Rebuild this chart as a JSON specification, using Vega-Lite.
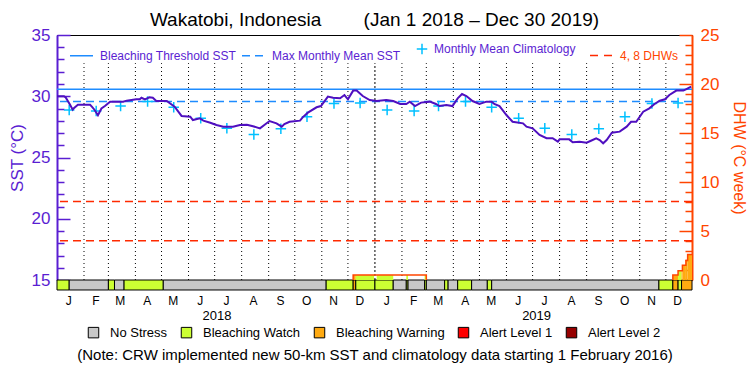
{
  "$schema": "https://vega.github.io/schema/vega-lite/v6.json",
  "width": 635,
  "height": 245,
  "autosize": {"type": "none"},
  "padding": {"left": 57, "top": 35, "right": 58, "bottom": 95},
  "background": "white",
  "title": {
    "text": "Wakatobi, Indonesia\u00a0\u00a0\u00a0\u00a0\u00a0\u00a0\u00a0\u00a0(Jan 1 2018 \u2013 Dec 30 2019)",
    "font": "Liberation Sans", "fontSize": 19, "fontWeight": "normal", "color": "black",
    "anchor": "middle", "offset": -4
  },
  "config": {
    "font": "Liberation Sans",
    "view": {"stroke": "black", "strokeWidth": 1},
    "axis": {"grid": false, "labelFont": "Liberation Sans", "titleFont": "Liberation Sans", "titleFontWeight": "normal", "labelOverlap": false, "labelFlush": false},
    "legend": {"labelFont": "Liberation Sans"}
  },
  "datasets": {
    "sst": [
      {"date": "2018-01-01", "sst": 30.0}, {"date": "2018-01-09", "sst": 30.0}, {"date": "2018-01-11", "sst": 29.9},
      {"date": "2018-01-16", "sst": 29.3}, {"date": "2018-01-19", "sst": 28.9}, {"date": "2018-01-20", "sst": 29.0},
      {"date": "2018-01-25", "sst": 29.3}, {"date": "2018-02-08", "sst": 29.3}, {"date": "2018-02-10", "sst": 29.15},
      {"date": "2018-02-13", "sst": 28.9}, {"date": "2018-02-17", "sst": 28.45}, {"date": "2018-02-21", "sst": 29.0},
      {"date": "2018-02-25", "sst": 29.2}, {"date": "2018-03-03", "sst": 29.56}, {"date": "2018-03-18", "sst": 29.56},
      {"date": "2018-03-22", "sst": 29.64}, {"date": "2018-04-02", "sst": 29.75}, {"date": "2018-04-06", "sst": 29.75},
      {"date": "2018-04-08", "sst": 29.88}, {"date": "2018-04-12", "sst": 29.75}, {"date": "2018-04-17", "sst": 29.91},
      {"date": "2018-04-21", "sst": 29.88}, {"date": "2018-04-25", "sst": 29.61}, {"date": "2018-05-07", "sst": 29.61},
      {"date": "2018-05-16", "sst": 29.15}, {"date": "2018-05-24", "sst": 28.39}, {"date": "2018-06-03", "sst": 28.33},
      {"date": "2018-06-06", "sst": 28.06}, {"date": "2018-06-14", "sst": 28.2}, {"date": "2018-06-18", "sst": 28.01},
      {"date": "2018-06-26", "sst": 27.84}, {"date": "2018-07-03", "sst": 27.65}, {"date": "2018-07-11", "sst": 27.52},
      {"date": "2018-07-22", "sst": 27.52}, {"date": "2018-07-30", "sst": 27.65}, {"date": "2018-08-07", "sst": 27.68},
      {"date": "2018-08-14", "sst": 27.55}, {"date": "2018-08-22", "sst": 27.38}, {"date": "2018-09-02", "sst": 27.98},
      {"date": "2018-09-10", "sst": 27.79}, {"date": "2018-09-16", "sst": 27.52}, {"date": "2018-09-19", "sst": 27.73},
      {"date": "2018-09-25", "sst": 27.92}, {"date": "2018-10-07", "sst": 28.01}, {"date": "2018-10-10", "sst": 28.28},
      {"date": "2018-10-16", "sst": 28.66}, {"date": "2018-10-26", "sst": 29.1}, {"date": "2018-10-31", "sst": 29.2},
      {"date": "2018-11-08", "sst": 29.97}, {"date": "2018-11-14", "sst": 29.88}, {"date": "2018-11-22", "sst": 29.83},
      {"date": "2018-11-27", "sst": 30.1}, {"date": "2018-12-01", "sst": 29.75}, {"date": "2018-12-07", "sst": 30.46},
      {"date": "2018-12-11", "sst": 30.46}, {"date": "2018-12-18", "sst": 30.02}, {"date": "2018-12-26", "sst": 29.69},
      {"date": "2019-01-03", "sst": 29.61}, {"date": "2019-01-14", "sst": 29.69}, {"date": "2019-01-22", "sst": 29.61},
      {"date": "2019-01-30", "sst": 29.37}, {"date": "2019-02-06", "sst": 29.37}, {"date": "2019-02-10", "sst": 29.56},
      {"date": "2019-02-16", "sst": 29.2}, {"date": "2019-02-23", "sst": 29.48}, {"date": "2019-03-05", "sst": 29.56},
      {"date": "2019-03-12", "sst": 29.37}, {"date": "2019-03-16", "sst": 29.2}, {"date": "2019-03-24", "sst": 29.29},
      {"date": "2019-03-31", "sst": 29.2}, {"date": "2019-04-06", "sst": 29.83}, {"date": "2019-04-11", "sst": 30.18},
      {"date": "2019-04-16", "sst": 30.02}, {"date": "2019-04-23", "sst": 29.61}, {"date": "2019-05-01", "sst": 29.37},
      {"date": "2019-05-09", "sst": 29.56}, {"date": "2019-05-15", "sst": 29.56}, {"date": "2019-05-18", "sst": 29.37},
      {"date": "2019-05-24", "sst": 29.2}, {"date": "2019-06-01", "sst": 28.47}, {"date": "2019-06-08", "sst": 27.92},
      {"date": "2019-06-20", "sst": 27.79}, {"date": "2019-06-24", "sst": 27.52}, {"date": "2019-07-01", "sst": 27.38},
      {"date": "2019-07-09", "sst": 26.84}, {"date": "2019-07-17", "sst": 26.57}, {"date": "2019-07-24", "sst": 26.57},
      {"date": "2019-07-30", "sst": 26.29}, {"date": "2019-08-01", "sst": 26.48}, {"date": "2019-08-12", "sst": 26.48},
      {"date": "2019-08-16", "sst": 26.24}, {"date": "2019-08-24", "sst": 26.29}, {"date": "2019-09-01", "sst": 26.21},
      {"date": "2019-09-06", "sst": 26.37}, {"date": "2019-09-12", "sst": 26.57}, {"date": "2019-09-16", "sst": 26.43},
      {"date": "2019-09-20", "sst": 26.16}, {"date": "2019-09-24", "sst": 26.43}, {"date": "2019-09-30", "sst": 27.03},
      {"date": "2019-10-09", "sst": 27.11}, {"date": "2019-10-17", "sst": 27.52}, {"date": "2019-10-22", "sst": 27.92},
      {"date": "2019-10-28", "sst": 27.92}, {"date": "2019-11-05", "sst": 28.74}, {"date": "2019-11-12", "sst": 29.01},
      {"date": "2019-11-18", "sst": 29.37}, {"date": "2019-11-24", "sst": 29.64}, {"date": "2019-11-30", "sst": 29.75},
      {"date": "2019-12-05", "sst": 30.1}, {"date": "2019-12-13", "sst": 30.46}, {"date": "2019-12-21", "sst": 30.46},
      {"date": "2019-12-24", "sst": 30.57}, {"date": "2019-12-30", "sst": 30.78}
    ],
    "clim": [
      {"date": "2018-01-15", "sst": 28.88}, {"date": "2018-02-15", "sst": 28.8}, {"date": "2018-03-15", "sst": 29.2},
      {"date": "2018-04-15", "sst": 29.57}, {"date": "2018-05-15", "sst": 29.1}, {"date": "2018-06-15", "sst": 28.2},
      {"date": "2018-07-15", "sst": 27.38}, {"date": "2018-08-15", "sst": 26.87}, {"date": "2018-09-15", "sst": 27.35},
      {"date": "2018-10-15", "sst": 28.33}, {"date": "2018-11-15", "sst": 29.4}, {"date": "2018-12-15", "sst": 29.45},
      {"date": "2019-01-15", "sst": 28.88}, {"date": "2019-02-15", "sst": 28.8}, {"date": "2019-03-15", "sst": 29.2},
      {"date": "2019-04-15", "sst": 29.57}, {"date": "2019-05-15", "sst": 29.1}, {"date": "2019-06-15", "sst": 28.2},
      {"date": "2019-07-15", "sst": 27.38}, {"date": "2019-08-15", "sst": 26.87}, {"date": "2019-09-15", "sst": 27.35},
      {"date": "2019-10-15", "sst": 28.33}, {"date": "2019-11-15", "sst": 29.4}, {"date": "2019-12-15", "sst": 29.45}
    ],
    "refs": [
      {"series": "Bleaching Threshold SST", "sst": 30.57},
      {"series": "Max Monthly Mean SST", "sst": 29.57}
    ],
    "dhwlines": [
      {"series": "4, 8 DHWs", "dhw": 4},
      {"series": "4, 8 DHWs", "dhw": 8}
    ],
    "months": [
      {"date": "2018-02-01"}, {"date": "2018-03-01"}, {"date": "2018-04-01"}, {"date": "2018-05-01"},
      {"date": "2018-06-01"}, {"date": "2018-07-01"}, {"date": "2018-08-01"}, {"date": "2018-09-01"},
      {"date": "2018-10-01"}, {"date": "2018-11-01"}, {"date": "2018-12-01"},
      {"date": "2019-02-01"}, {"date": "2019-03-01"}, {"date": "2019-04-01"}, {"date": "2019-05-01"},
      {"date": "2019-06-01"}, {"date": "2019-07-01"}, {"date": "2019-08-01"}, {"date": "2019-09-01"},
      {"date": "2019-10-01"}, {"date": "2019-11-01"}, {"date": "2019-12-01"}
    ],
    "yearline": [{"date": "2019-01-01"}],
    "stress": [
      {"start": "2018-01-01", "end": "2018-01-15", "level": "Bleaching Watch"},
      {"start": "2018-01-15", "end": "2018-03-01", "level": "No Stress"},
      {"start": "2018-03-01", "end": "2018-03-08", "level": "Bleaching Watch"},
      {"start": "2018-03-08", "end": "2018-03-19", "level": "No Stress"},
      {"start": "2018-03-19", "end": "2018-05-03", "level": "Bleaching Watch"},
      {"start": "2018-05-03", "end": "2018-11-06", "level": "No Stress"},
      {"start": "2018-11-06", "end": "2018-12-07", "level": "Bleaching Watch"},
      {"start": "2018-12-07", "end": "2018-12-10", "level": "Bleaching Warning"},
      {"start": "2018-12-10", "end": "2019-01-01", "level": "Bleaching Watch"},
      {"start": "2019-01-01", "end": "2019-01-22", "level": "Bleaching Watch"},
      {"start": "2019-01-22", "end": "2019-02-06", "level": "No Stress"},
      {"start": "2019-02-06", "end": "2019-02-08", "level": "Bleaching Watch"},
      {"start": "2019-02-08", "end": "2019-02-27", "level": "No Stress"},
      {"start": "2019-02-27", "end": "2019-03-01", "level": "Bleaching Watch"},
      {"start": "2019-03-01", "end": "2019-03-22", "level": "No Stress"},
      {"start": "2019-03-22", "end": "2019-03-26", "level": "Bleaching Watch"},
      {"start": "2019-03-26", "end": "2019-04-06", "level": "No Stress"},
      {"start": "2019-04-06", "end": "2019-04-22", "level": "Bleaching Watch"},
      {"start": "2019-04-22", "end": "2019-05-10", "level": "No Stress"},
      {"start": "2019-05-10", "end": "2019-05-15", "level": "Bleaching Watch"},
      {"start": "2019-05-15", "end": "2019-11-23", "level": "No Stress"},
      {"start": "2019-11-23", "end": "2019-12-09", "level": "Bleaching Watch"},
      {"start": "2019-12-09", "end": "2019-12-15", "level": "Bleaching Warning"},
      {"start": "2019-12-15", "end": "2019-12-19", "level": "Bleaching Watch"},
      {"start": "2019-12-19", "end": "2019-12-31", "level": "Bleaching Warning"}
    ],
    "dhwfill": [
      {"start": "2018-12-07", "end": "2018-12-10", "dhw": 0.5, "level": "Bleaching Warning"},
      {"start": "2018-12-10", "end": "2018-12-31", "dhw": 0.5, "level": "Bleaching Watch"},
      {"start": "2019-01-03", "end": "2019-01-22", "dhw": 0.5, "level": "Bleaching Watch"},
      {"start": "2019-02-06", "end": "2019-02-08", "dhw": 0.5, "level": "Bleaching Watch"},
      {"start": "2019-02-27", "end": "2019-03-01", "dhw": 0.5, "level": "Bleaching Watch"},
      {"start": "2019-12-09", "end": "2019-12-15", "dhw": 0.5, "level": "Bleaching Warning"},
      {"start": "2019-12-15", "end": "2019-12-19", "dhw": 0.95, "level": "Bleaching Watch"},
      {"start": "2019-12-19", "end": "2019-12-20", "dhw": 0.95, "level": "Bleaching Warning"},
      {"start": "2019-12-20", "end": "2019-12-24", "dhw": 1.5, "level": "Bleaching Warning"},
      {"start": "2019-12-24", "end": "2019-12-26", "dhw": 2.0, "level": "Bleaching Warning"},
      {"start": "2019-12-26", "end": "2019-12-31", "dhw": 2.6, "level": "Bleaching Warning"}
    ],
    "dhwline": [
      {"grp": "a", "i": 1, "date": "2018-12-07", "dhw": 0}, {"grp": "a", "i": 2, "date": "2018-12-07", "dhw": 0.5},
      {"grp": "a", "i": 3, "date": "2019-03-01", "dhw": 0.5}, {"grp": "a", "i": 4, "date": "2019-03-01", "dhw": 0},
      {"grp": "b", "i": 1, "date": "2019-12-09", "dhw": 0}, {"grp": "b", "i": 2, "date": "2019-12-09", "dhw": 0.5},
      {"grp": "b", "i": 3, "date": "2019-12-15", "dhw": 0.5}, {"grp": "b", "i": 4, "date": "2019-12-15", "dhw": 0.95},
      {"grp": "b", "i": 5, "date": "2019-12-20", "dhw": 0.95}, {"grp": "b", "i": 6, "date": "2019-12-20", "dhw": 1.5},
      {"grp": "b", "i": 7, "date": "2019-12-24", "dhw": 1.5}, {"grp": "b", "i": 8, "date": "2019-12-24", "dhw": 2.0},
      {"grp": "b", "i": 9, "date": "2019-12-26", "dhw": 2.0}, {"grp": "b", "i": 10, "date": "2019-12-26", "dhw": 2.6},
      {"grp": "b", "i": 11, "date": "2019-12-31", "dhw": 2.6}
    ]
  },
  "layer": [
    {
      "layer": [
        {
          "data": {"name": "months"},
          "mark": {"type": "rule", "color": "black", "strokeDash": [1, 3], "strokeWidth": 1},
          "encoding": {
            "x": {"field": "date", "type": "temporal", "scale": {"type": "utc", "domain": [{"year": 2018, "month": 1, "date": 1, "utc": true}, {"year": 2019, "month": 12, "date": 31, "utc": true}]}},
            "y": {"datum": 15, "type": "quantitative", "scale": {"domain": [15, 35], "nice": false, "zero": false}},
            "y2": {"datum": 32.7}
          }
        },
        {
          "data": {"name": "yearline"},
          "mark": {"type": "rule", "color": "black", "strokeDash": [2, 2], "strokeWidth": 1},
          "encoding": {
            "x": {"field": "date", "type": "temporal"},
            "y": {"datum": 15, "type": "quantitative"},
            "y2": {"datum": 32.7}
          }
        },
        {
          "data": {"name": "stress"},
          "mark": {"type": "rect", "stroke": "black", "strokeWidth": 1},
          "encoding": {
            "x": {"field": "start", "type": "temporal"},
            "x2": {"field": "end"},
            "y": {"datum": 15, "type": "quantitative"},
            "y2": {"datum": 14.184},
            "fill": {
              "field": "level", "type": "nominal",
              "scale": {"domain": ["No Stress", "Bleaching Watch", "Bleaching Warning", "Alert Level 1", "Alert Level 2"], "range": ["#c8c8c8", "#ccff33", "#ffaa11", "#ff0000", "#960000"]},
              "legend": {
                "orient": "none", "legendX": 30, "legendY": 291, "direction": "horizontal", "title": null,
                "symbolType": "square", "symbolSize": 110, "symbolStrokeColor": "black", "symbolStrokeWidth": 1,
                "labelFontSize": 13, "labelOffset": 10, "columnPadding": 11, "padding": 0, "labelColor": "black"
              }
            }
          }
        },
        {
          "data": {"name": "refs"},
          "mark": {"type": "rule", "strokeWidth": 1.5, "color": "#1e8cff"},
          "encoding": {
            "y": {"field": "sst", "type": "quantitative"},
            "strokeDash": {
              "field": "series", "type": "nominal",
              "scale": {"domain": ["Bleaching Threshold SST", "Max Monthly Mean SST"], "range": [[1, 0], [8, 5]]},
              "legend": {
                "orient": "none", "legendX": 12, "legendY": 8, "direction": "horizontal", "title": null,
                "symbolType": "stroke", "symbolSize": 529, "symbolStrokeWidth": 1.5, "symbolStrokeColor": "#1e8cff",
                "labelFontSize": 12, "labelOffset": 6, "columnPadding": 2, "padding": 0, "labelColor": "#5a1ed2"
              }
            }
          }
        },
        {
          "data": {"name": "clim"},
          "mark": {"type": "point", "filled": false, "size": 110, "strokeWidth": 1.5, "opacity": 1, "color": "#00c0ff"},
          "encoding": {
            "x": {"field": "date", "type": "temporal"},
            "y": {"field": "sst", "type": "quantitative"},
            "shape": {
              "datum": "Monthly Mean Climatology", "type": "nominal",
              "scale": {"domain": ["Monthly Mean Climatology"], "range": ["M-1,0H1M0,-1V1"]},
              "legend": {
                "orient": "none", "legendX": 359, "legendY": 8, "direction": "horizontal", "title": null,
                "symbolSize": 110, "symbolStrokeWidth": 1.5, "symbolStrokeColor": "#00c0ff", "symbolFillColor": "transparent",
                "labelFontSize": 12, "labelOffset": 6, "padding": 0, "labelColor": "#5a1ed2"
              }
            }
          }
        },
        {
          "data": {"name": "sst"},
          "mark": {"type": "line", "color": "#4f0fc0", "strokeWidth": 2},
          "encoding": {
            "x": {
              "field": "date", "type": "temporal",
              "axis": {
                "orient": "bottom", "title": null, "ticks": false, "domain": false, "labelPadding": 15,
                "labelFontSize": 12, "labelColor": "black", "labelOverlap": false, "labelFlush": false, "tickCount": 100,
                "values": [
                  {"year": 2018, "month": 1, "date": 14, "utc": true}, {"year": 2018, "month": 2, "date": 14, "utc": true},
                  {"year": 2018, "month": 3, "date": 14, "utc": true}, {"year": 2018, "month": 4, "date": 14, "utc": true},
                  {"year": 2018, "month": 5, "date": 14, "utc": true}, {"year": 2018, "month": 6, "date": 14, "utc": true},
                  {"year": 2018, "month": 7, "date": 14, "utc": true}, {"year": 2018, "month": 8, "date": 14, "utc": true},
                  {"year": 2018, "month": 9, "date": 14, "utc": true}, {"year": 2018, "month": 10, "date": 14, "utc": true},
                  {"year": 2018, "month": 11, "date": 14, "utc": true}, {"year": 2018, "month": 12, "date": 14, "utc": true},
                  {"year": 2019, "month": 1, "date": 14, "utc": true}, {"year": 2019, "month": 2, "date": 14, "utc": true},
                  {"year": 2019, "month": 3, "date": 14, "utc": true}, {"year": 2019, "month": 4, "date": 14, "utc": true},
                  {"year": 2019, "month": 5, "date": 14, "utc": true}, {"year": 2019, "month": 6, "date": 14, "utc": true},
                  {"year": 2019, "month": 7, "date": 14, "utc": true}, {"year": 2019, "month": 8, "date": 14, "utc": true},
                  {"year": 2019, "month": 9, "date": 14, "utc": true}, {"year": 2019, "month": 10, "date": 14, "utc": true},
                  {"year": 2019, "month": 11, "date": 14, "utc": true}, {"year": 2019, "month": 12, "date": 14, "utc": true}
                ],
                "labelExpr": "substring(utcFormat(datum.value, '%b'), 0, 1)"
              }
            },
            "y": {
              "field": "sst", "type": "quantitative",
              "axis": {
                "orient": "left", "title": "SST (\u00b0C)", "titleColor": "#5a1ed2", "titleFontSize": 17, "titlePadding": 5,
                "values": [15, 16, 17, 18, 19, 20, 21, 22, 23, 24, 25, 26, 27, 28, 29, 30, 31, 32, 33, 34, 35],
                "tickCount": 100, "format": "d", "ticks": true,
                "labelExpr": "datum.value % 5 === 0 ? format(datum.value, 'd') : ''",
                "labelOverlap": false, "labelFlush": false,
                "domainColor": "#5a1ed2", "domainWidth": 2, "tickColor": "#5a1ed2", "tickWidth": 1.5,
                "tickSize": {"condition": {"test": "datum.value % 5 === 0", "value": -13}, "value": -7},
                "labelPadding": 20, "labelColor": "#5a1ed2", "labelFontSize": 17
              }
            }
          }
        }
      ]
    },
    {
      "layer": [
        {
          "data": {"name": "dhwlines"},
          "mark": {"type": "rule", "strokeWidth": 1.5, "strokeDash": [8, 5]},
          "encoding": {
            "y": {"field": "dhw", "type": "quantitative", "scale": {"domain": [0, 25], "nice": false}},
            "color": {
              "field": "series", "type": "nominal",
              "scale": {"domain": ["4, 8 DHWs"], "range": ["#ff2a00"]},
              "legend": {
                "orient": "none", "legendX": 532, "legendY": 8, "direction": "horizontal", "title": null,
                "symbolType": "stroke", "symbolSize": 529, "symbolStrokeWidth": 1.5, "symbolDash": [8, 6],
                "labelFontSize": 12, "labelOffset": 6, "padding": 0, "labelColor": "#ff4500"
              }
            }
          }
        },
        {
          "data": {"name": "dhwfill"},
          "mark": {"type": "rect"},
          "encoding": {
            "x": {"field": "start", "type": "temporal"},
            "x2": {"field": "end"},
            "y": {"field": "dhw", "type": "quantitative"},
            "y2": {"datum": 0},
            "fill": {"field": "level", "type": "nominal"}
          }
        },
        {
          "data": {"name": "dhwline"},
          "mark": {"type": "line", "color": "#ff4500", "strokeWidth": 1.5},
          "encoding": {
            "x": {
              "field": "date", "type": "temporal",
              "axis": {
                "orient": "bottom", "ticks": false, "domain": false, "labelPadding": 29, "labelFontSize": 13, "labelColor": "black",
                "labelOverlap": false, "labelFlush": false, "tickCount": 100,
                "values": [{"year": 2018, "month": 7, "date": 3, "utc": true}, {"year": 2019, "month": 7, "date": 5, "utc": true}],
                "labelExpr": "utcFormat(datum.value, '%Y')",
                "title": "(Note: CRW implemented new 50-km SST and climatology data starting 1 February 2016)",
                "titleFontSize": 15, "titleColor": "black", "titlePadding": 25
              }
            },
            "y": {
              "field": "dhw", "type": "quantitative",
              "axis": {
                "orient": "right", "title": "DHW (\u00b0C week)", "titleColor": "#ff4500", "titleFontSize": 16, "titlePadding": 12,
                "values": [0, 1, 2, 3, 4, 5, 6, 7, 8, 9, 10, 11, 12, 13, 14, 15, 16, 17, 18, 19, 20, 21, 22, 23, 24, 25],
                "tickCount": 100, "format": "d", "ticks": true,
                "labelExpr": "datum.value % 5 === 0 ? format(datum.value, 'd') : ''",
                "labelOverlap": false, "labelFlush": false,
                "domainColor": "#ff4500", "domainWidth": 2, "tickColor": "#ff4500", "tickWidth": 1.5,
                "tickSize": {"condition": {"test": "datum.value % 5 === 0", "value": -13}, "value": -7},
                "labelPadding": 21, "labelColor": "#ff4500", "labelFontSize": 17
              }
            },
            "detail": {"field": "grp", "type": "nominal"},
            "order": {"field": "i", "type": "quantitative"}
          }
        }
      ]
    }
  ],
  "resolve": {"scale": {"y": "independent"}, "axis": {"x": "independent", "y": "independent"}}
}
